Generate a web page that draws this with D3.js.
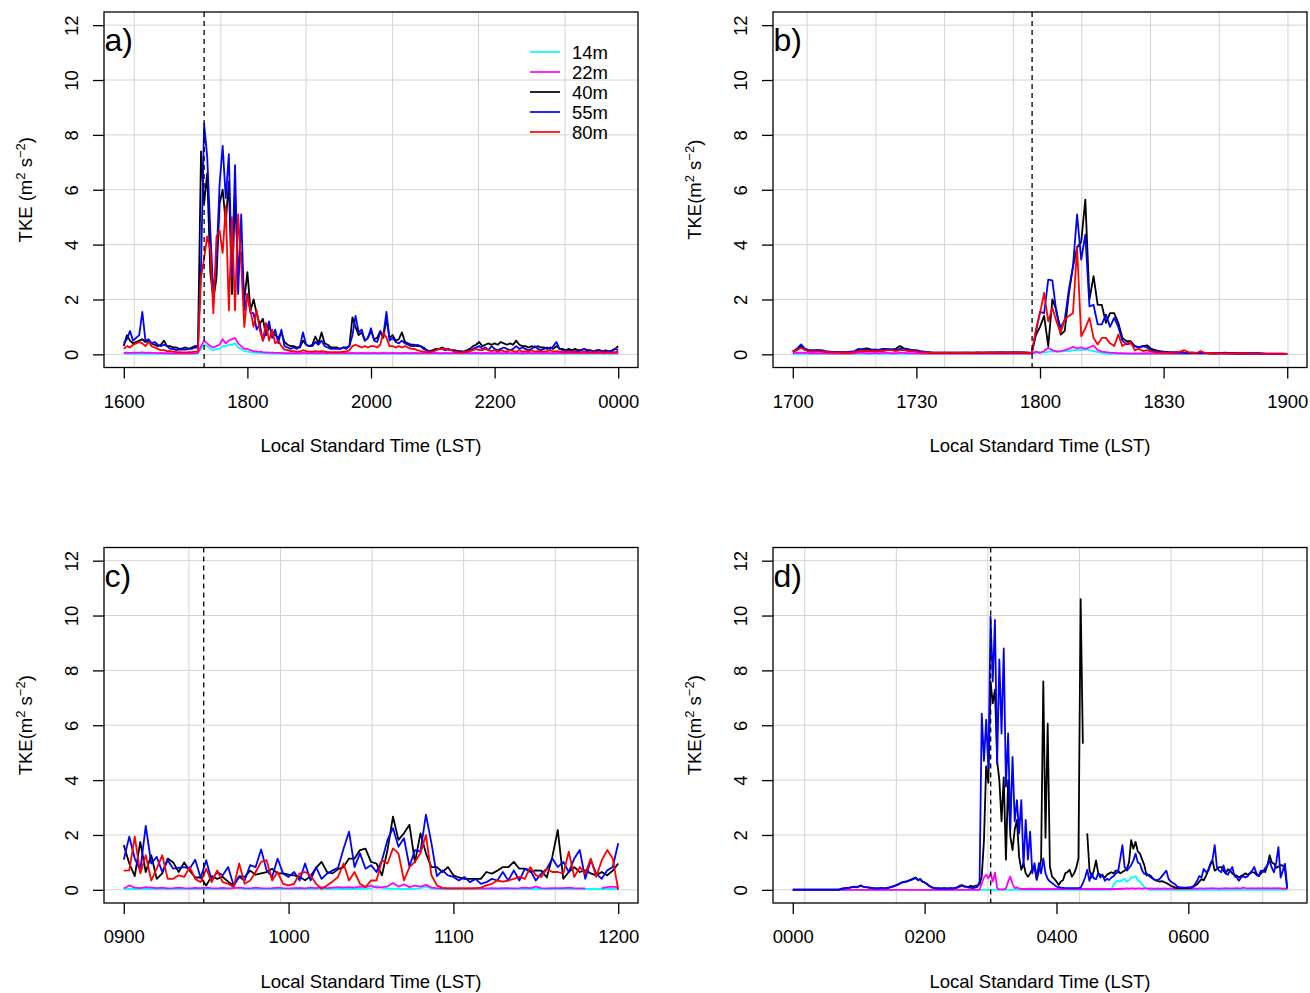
<!DOCTYPE html>
<html><head><meta charset="utf-8">
<script src="https://cdn.jsdelivr.net/npm/d3@7"></script>
<style>body{margin:0;background:#fff}</style>
</head><body>
<svg id="chart" width="1310" height="993"></svg>
<script>
// ---------------- DATA ----------------
const seriesNames = ["14m","22m","40m","55m","80m"];
const seriesColors = ["#00FFFF","#FF00FF","#000000","#0000FF","#FF0000"];
const yTicks = [0,2,4,6,8,10,12];

// Panel a: 16:00-24:00, 3-min samples
const aStart = 16, aStepMin = 3, aEnd = 24;
const a14 = [0.02,0.02,0.03,0.02,0.02,0.03,0.02,0.02,0.03,0.02,
0.02,0.02,0.02,0.02,0.02,0.02,0.02,0.02,0.02,0.02,
0.02,0.02,0.02,0.02,0.03,0.2,0.35,0.3,0.2,0.15,
0.2,0.2,0.3,0.3,0.35,0.35,0.4,0.25,0.2,0.12,
0.1,0.08,0.06,0.05,0.05,0.04,0.04,0.03,0.03,0.03,
0.03,0.02,0.03,0.03,0.02,0.03,0.03,0.02,0.03,0.03,
0.03,0.02,0.03,0.03,0.02,0.03,0.03,0.02,0.03,0.03,
0.03,0.02,0.03,0.03,0.02,0.03,0.03,0.02,0.03,0.03,
0.03,0.02,0.03,0.03,0.02,0.03,0.03,0.02,0.03,0.03,
0.03,0.02,0.03,0.03,0.02,0.03,0.03,0.02,0.03,0.03,
0.03,0.02,0.03,0.03,0.02,0.03,0.03,0.02,0.03,0.03,
0.03,0.02,0.03,0.03,0.02,0.03,0.03,0.02,0.03,0.03,
0.03,0.02,0.03,0.03,0.02,0.03,0.03,0.02,0.03,0.03,
0.03,0.02,0.03,0.03,0.02,0.03,0.03,0.02,0.03,0.03,
0.03,0.02,0.03,0.03,0.02,0.03,0.03,0.02,0.03,0.03,
0.03,0.02,0.03,0.03,0.02,0.03,0.03,0.02,0.03,0.03,
0.03];
const a22 = [0.05,0.06,0.05,0.06,0.05,0.06,0.07,0.05,0.06,0.05,
0.05,0.04,0.05,0.04,0.04,0.04,0.03,0.04,0.03,0.03,
0.03,0.04,0.03,0.04,0.05,0.3,0.5,0.4,0.3,0.25,
0.3,0.35,0.55,0.4,0.5,0.55,0.6,0.4,0.3,0.2,
0.2,0.15,0.12,0.1,0.1,0.08,0.07,0.06,0.06,0.05,
0.05,0.05,0.04,0.04,0.04,0.04,0.04,0.04,0.05,0.04,
0.04,0.05,0.04,0.04,0.05,0.04,0.04,0.05,0.04,0.04,
0.04,0.05,0.04,0.04,0.05,0.04,0.04,0.05,0.04,0.04,
0.04,0.05,0.04,0.04,0.05,0.04,0.04,0.05,0.04,0.04,
0.04,0.05,0.04,0.04,0.05,0.04,0.04,0.05,0.04,0.04,
0.04,0.05,0.04,0.04,0.05,0.04,0.04,0.05,0.04,0.04,
0.04,0.05,0.04,0.04,0.05,0.04,0.04,0.05,0.04,0.04,
0.04,0.05,0.04,0.04,0.05,0.04,0.04,0.05,0.04,0.04,
0.04,0.05,0.04,0.04,0.05,0.04,0.04,0.05,0.04,0.04,
0.04,0.05,0.04,0.04,0.05,0.04,0.04,0.05,0.04,0.04,
0.04,0.05,0.04,0.04,0.05,0.04,0.04,0.05,0.04,0.04,
0.04];
const a40 = [0.3,0.7,0.5,0.4,0.45,0.5,0.55,0.45,0.5,0.4,
0.35,0.3,0.35,0.5,0.3,0.3,0.25,0.25,0.2,0.22,
0.25,0.2,0.25,0.3,0.3,7.4,5.5,6.6,3.0,2.0,
2.8,5.5,6.0,4.8,6.3,2.2,5.8,3.2,3.7,2.0,
3.0,1.6,2.0,1.5,1.1,1.3,0.7,1.0,0.8,0.7,
0.6,0.8,0.45,0.35,0.3,0.3,0.25,0.25,0.5,0.35,
0.3,0.35,0.65,0.4,0.8,0.4,0.35,0.25,0.25,0.25,
0.2,0.25,0.25,0.3,1.35,1.0,0.7,0.8,0.5,0.6,
0.85,0.55,0.6,0.85,0.6,1.3,0.6,0.7,0.5,0.55,
0.8,0.45,0.4,0.35,0.35,0.3,0.3,0.25,0.15,0.12,
0.15,0.2,0.2,0.25,0.2,0.2,0.15,0.15,0.12,0.12,
0.1,0.15,0.2,0.3,0.35,0.45,0.3,0.35,0.4,0.35,
0.4,0.35,0.45,0.4,0.35,0.4,0.35,0.5,0.35,0.3,
0.3,0.25,0.3,0.25,0.3,0.25,0.25,0.2,0.25,0.2,
0.3,0.2,0.2,0.15,0.2,0.15,0.2,0.15,0.15,0.2,
0.15,0.15,0.1,0.15,0.15,0.1,0.15,0.1,0.15,0.2,
0.3];
const a55 = [0.4,0.55,0.85,0.5,0.6,0.7,1.55,0.5,0.55,0.4,
0.45,0.35,0.3,0.35,0.3,0.2,0.2,0.15,0.18,0.17,
0.17,0.2,0.2,0.25,0.25,3.2,8.4,7.2,4.5,2.2,
3.4,6.2,7.6,5.7,7.3,2.8,6.9,2.2,5.1,1.6,
2.2,1.5,1.5,0.9,1.1,0.5,0.8,1.2,0.6,0.9,
0.4,0.9,0.3,0.25,0.2,0.25,0.2,0.3,0.8,0.35,
0.3,0.3,0.45,0.35,0.5,0.3,0.25,0.2,0.2,0.2,
0.2,0.25,0.2,0.3,0.7,1.4,0.8,0.9,0.5,0.6,
0.95,0.5,0.45,0.8,0.7,1.55,0.5,0.6,0.45,0.4,
0.5,0.4,0.35,0.3,0.3,0.35,0.3,0.2,0.15,0.1,
0.12,0.15,0.2,0.2,0.15,0.18,0.15,0.12,0.1,0.1,
0.08,0.1,0.12,0.2,0.25,0.3,0.2,0.25,0.15,0.3,
0.2,0.15,0.2,0.25,0.2,0.15,0.2,0.3,0.2,0.25,
0.2,0.15,0.2,0.3,0.2,0.15,0.2,0.25,0.2,0.3,
0.45,0.2,0.15,0.1,0.15,0.1,0.12,0.1,0.15,0.2,
0.1,0.15,0.1,0.1,0.15,0.1,0.1,0.12,0.1,0.2,
0.15];
const a80 = [0.2,0.3,0.25,0.35,0.4,0.45,0.4,0.3,0.45,0.3,
0.25,0.2,0.15,0.15,0.12,0.12,0.1,0.08,0.08,0.07,
0.07,0.08,0.08,0.1,0.1,2.8,3.5,4.3,3.8,1.5,
4.3,4.5,3.7,5.4,1.6,5.0,1.6,5.1,3.3,1.0,
2.2,1.6,1.0,1.6,0.9,0.5,1.15,0.5,0.9,0.4,
0.5,0.3,0.17,0.15,0.12,0.12,0.1,0.1,0.15,0.12,
0.1,0.1,0.12,0.1,0.12,0.1,0.08,0.08,0.08,0.08,
0.08,0.1,0.1,0.15,0.3,0.35,0.3,0.25,0.3,0.25,
0.3,0.3,0.25,0.35,0.8,0.6,0.3,0.3,0.25,0.3,
0.25,0.3,0.25,0.2,0.2,0.15,0.12,0.1,0.08,0.08,
0.1,0.15,0.2,0.2,0.2,0.18,0.15,0.1,0.08,0.07,
0.07,0.1,0.12,0.15,0.2,0.15,0.15,0.2,0.15,0.12,
0.15,0.1,0.15,0.12,0.1,0.15,0.12,0.1,0.15,0.1,
0.12,0.1,0.15,0.1,0.12,0.1,0.1,0.12,0.15,0.1,
0.12,0.1,0.08,0.1,0.08,0.1,0.08,0.06,0.08,0.1,
0.06,0.08,0.06,0.1,0.08,0.06,0.08,0.06,0.06,0.08,
0.1];
const aTicks = [16,18,20,22,24];
const aTickLabels = ["1600","1800","2000","2200","0000"];
const aGrid = [16.17,17.57,18.95,20.35,21.74,23.14];
const aEvent = 17.30;

// Panel b: 17:00-19:00, 1-min samples
const bStart = 17, bStepMin = 1, bEnd = 19;
const b14 = [0.02,0.02,0.02,0.02,0.02,0.02,0.02,0.02,0.02,0.02,
0.02,0.02,0.02,0.02,0.02,0.02,0.02,0.02,0.02,0.02,
0.02,0.02,0.02,0.02,0.02,0.02,0.02,0.02,0.02,0.02,
0.02,0.02,0.02,0.02,0.02,0.02,0.02,0.02,0.02,0.02,
0.02,0.02,0.02,0.02,0.02,0.02,0.02,0.02,0.02,0.02,
0.02,0.02,0.02,0.02,0.02,0.02,0.02,0.02,0.02,0.05,
0.08,0.06,0.1,0.1,0.12,0.1,0.12,0.12,0.15,0.15,
0.15,0.18,0.15,0.12,0.08,0.05,0.03,0.02,0.02,0.02,
0.02,0.02,0.02,0.02,0.02,0.02,0.02,0.02,0.02,0.02,
0.02,0.02,0.02,0.02,0.02,0.02,0.02,0.02,0.02,0.02,
0.02,0.02,0.02,0.02,0.02,0.02,0.02,0.02,0.02,0.02,
0.02,0.02,0.02,0.02,0.02,0.02,0.02,0.02,0.02,0.02,
0.02];
const b22 = [0.04,0.05,0.06,0.05,0.04,0.04,0.04,0.04,0.04,0.03,
0.03,0.03,0.03,0.03,0.03,0.04,0.05,0.05,0.04,0.04,
0.05,0.04,0.05,0.05,0.04,0.04,0.05,0.05,0.04,0.04,
0.04,0.03,0.03,0.03,0.03,0.03,0.03,0.03,0.03,0.03,
0.03,0.03,0.03,0.03,0.03,0.03,0.03,0.03,0.03,0.03,
0.03,0.03,0.03,0.03,0.03,0.03,0.03,0.03,0.03,0.1,
0.05,0.12,0.24,0.15,0.1,0.12,0.15,0.2,0.27,0.22,
0.25,0.2,0.25,0.32,0.15,0.1,0.08,0.06,0.05,0.04,
0.04,0.03,0.03,0.03,0.03,0.03,0.04,0.03,0.03,0.03,
0.03,0.03,0.03,0.03,0.03,0.03,0.03,0.03,0.03,0.03,
0.03,0.03,0.03,0.03,0.03,0.03,0.03,0.03,0.03,0.03,
0.03,0.03,0.03,0.03,0.03,0.03,0.03,0.03,0.03,0.03,
0.02];
const b40 = [0.1,0.15,0.3,0.18,0.12,0.12,0.15,0.12,0.1,0.08,
0.08,0.08,0.07,0.07,0.08,0.1,0.15,0.2,0.22,0.18,
0.15,0.17,0.2,0.17,0.18,0.2,0.3,0.22,0.18,0.15,
0.12,0.1,0.08,0.07,0.06,0.06,0.06,0.06,0.06,0.06,
0.06,0.06,0.06,0.06,0.06,0.06,0.06,0.07,0.07,0.07,
0.07,0.07,0.07,0.07,0.07,0.07,0.07,0.06,0.05,0.7,
1.0,1.4,0.3,2.0,1.6,0.72,0.85,2.2,3.2,3.9,
4.1,5.64,2.0,2.85,1.8,1.8,1.15,1.5,1.5,1.15,
0.6,0.48,0.48,0.3,0.25,0.3,0.33,0.2,0.15,0.12,
0.1,0.08,0.07,0.07,0.08,0.06,0.05,0.06,0.05,0.05,
0.05,0.04,0.04,0.04,0.05,0.05,0.04,0.04,0.03,0.03,
0.03,0.03,0.03,0.03,0.02,0.02,0.02,0.02,0.02,0.02,
0.02];
const b55 = [0.1,0.2,0.36,0.2,0.15,0.15,0.15,0.15,0.12,0.1,
0.08,0.08,0.08,0.08,0.1,0.12,0.2,0.15,0.15,0.15,
0.18,0.15,0.18,0.2,0.18,0.15,0.2,0.2,0.18,0.15,
0.15,0.12,0.1,0.08,0.06,0.06,0.06,0.06,0.06,0.06,
0.06,0.06,0.06,0.06,0.06,0.07,0.06,0.06,0.06,0.06,
0.07,0.07,0.06,0.07,0.07,0.07,0.06,0.06,0.05,0.8,
1.55,1.5,2.72,2.7,1.5,0.97,1.25,2.36,3.2,5.1,
3.45,4.36,1.75,1.8,1.09,1.09,1.45,1.0,1.33,1.0,
0.5,0.36,0.4,0.3,0.25,0.3,0.25,0.15,0.1,0.1,
0.08,0.08,0.07,0.07,0.08,0.06,0.05,0.06,0.05,0.05,
0.05,0.05,0.04,0.04,0.05,0.06,0.04,0.04,0.03,0.03,
0.03,0.03,0.03,0.03,0.03,0.02,0.02,0.02,0.02,0.02,
0.02];
const b80 = [0.1,0.15,0.24,0.15,0.1,0.1,0.12,0.1,0.1,0.08,
0.07,0.06,0.06,0.06,0.06,0.08,0.12,0.12,0.12,0.12,
0.12,0.12,0.12,0.15,0.15,0.12,0.15,0.15,0.12,0.12,
0.1,0.08,0.07,0.06,0.05,0.05,0.05,0.05,0.05,0.05,
0.05,0.05,0.06,0.05,0.05,0.06,0.06,0.05,0.06,0.06,
0.06,0.06,0.06,0.06,0.06,0.06,0.06,0.05,0.05,0.9,
1.5,2.24,1.2,1.7,1.2,0.78,1.27,1.4,1.5,3.88,
0.66,0.95,1.33,0.6,0.36,0.6,0.6,0.4,0.3,0.72,
0.3,0.4,0.45,0.15,0.2,0.12,0.15,0.1,0.08,0.06,
0.06,0.05,0.06,0.08,0.1,0.15,0.08,0.05,0.05,0.12,
0.05,0.04,0.04,0.04,0.03,0.03,0.03,0.03,0.03,0.03,
0.03,0.02,0.02,0.02,0.02,0.02,0.02,0.02,0.02,0.02,
0.02];
const bTicks = [17,17.5,18,18.5,19];
const bTickLabels = ["1700","1730","1800","1830","1900"];
const bGrid = [17.058,17.336,17.614,17.892,18.169,18.447,18.725,19.003];
const bEvent = 17.968;

// Panel c: 09:00-12:00, 2-min samples
const cStart = 9, cStepMin = 2, cEnd = 12;
const c14 = [0.05,0.03,0.03,0.03,0.04,0.03,0.03,0.03,0.03,0.03,
0.03,0.03,0.03,0.03,0.03,0.03,0.03,0.03,0.03,0.04,
0.06,0.06,0.03,0.03,0.03,0.03,0.03,0.03,0.03,0.03,
0.03,0.03,0.03,0.03,0.03,0.03,0.03,0.03,0.03,0.03,
0.03,0.03,0.03,0.03,0.04,0.05,0.15,0.06,0.04,0.04,
0.04,0.03,0.03,0.04,0.06,0.12,0.05,0.03,0.03,0.03,
0.03,0.03,0.03,0.03,0.03,0.03,0.03,0.03,0.03,0.03,
0.03,0.03,0.03,0.03,0.03,0.03,0.03,0.03,0.03,0.03,
0.03,0.03,0.03,0.03,0.03,0.03,0.03,0.03,0.03,0.03,
0.03];
const c22 = [0.05,0.16,0.08,0.06,0.1,0.08,0.06,0.08,0.05,0.06,
0.08,0.06,0.05,0.07,0.06,0.08,0.06,0.05,0.07,0.05,
0.06,0.08,0.06,0.05,0.08,0.06,0.05,0.06,0.08,0.06,
0.05,0.06,0.07,0.05,0.08,0.06,0.1,0.06,0.08,0.1,
0.08,0.1,0.08,0.12,0.1,0.15,0.08,0.1,0.12,0.25,
0.12,0.2,0.1,0.15,0.12,0.18,0.08,0.06,0.05,0.05,
0.05,0.05,0.05,0.05,0.06,0.05,0.05,0.06,0.05,0.06,
0.06,0.05,0.06,0.08,0.06,0.12,0.06,0.05,0.06,0.06,
0.06,0.08,0.06,0.05,0.05,null,null,0.06,0.1,0.12,
0.08];
const c40 = [1.63,0.96,0.5,1.75,0.65,1.26,0.4,0.6,1.14,1.0,
0.65,1.0,0.7,0.45,0.45,0.16,0.5,0.4,0.47,0.3,
0.15,0.5,0.47,0.7,0.55,0.6,0.65,0.77,0.6,0.6,
0.55,0.53,0.47,0.35,0.5,0.8,1.02,0.65,0.6,0.75,
0.83,1.14,1.14,1.45,1.5,1.02,0.96,0.53,1.45,2.67,
1.82,2.06,2.37,1.0,2.06,1.33,0.83,0.83,0.65,0.83,
0.53,0.45,0.4,0.4,0.4,0.4,0.65,0.59,0.7,0.83,
0.83,1.02,0.77,0.77,0.65,0.71,0.7,0.45,1.2,2.18,
0.4,0.65,0.83,0.65,0.71,0.6,0.53,0.65,0.53,0.7,
0.96];
const c55 = [1.1,1.94,1.14,0.71,2.33,0.96,1.2,0.65,1.08,0.77,
0.8,0.83,0.77,1.1,0.44,1.08,0.34,0.65,0.53,0.83,
0.16,0.47,0.34,0.9,0.83,1.47,0.71,0.47,1.14,0.59,
0.47,0.65,0.34,0.96,0.34,0.83,0.4,0.59,0.71,0.8,
1.5,2.12,0.83,1.33,0.77,0.9,0.65,1.08,1.82,2.25,
1.57,1.88,0.85,1.45,1.39,2.74,1.7,0.5,0.71,0.53,
0.47,0.34,0.47,0.28,0.4,0.22,0.28,0.4,0.34,0.65,
0.34,0.71,0.34,0.77,0.71,0.34,0.59,0.77,1.14,0.83,
1.02,0.65,1.14,1.45,0.4,1.08,0.59,0.4,0.71,0.83,
1.7];
const c80 = [0.7,0.71,1.94,0.6,1.26,0.34,0.77,1.26,0.4,0.4,
0.53,0.47,0.83,0.4,0.28,0.77,0.28,0.71,0.28,0.22,
0.1,0.96,0.22,0.34,0.65,1.02,1.08,0.34,0.65,0.22,
0.16,0.22,0.59,0.65,0.53,0.22,0.04,0.16,0.3,0.47,
0.96,0.34,0.65,0.22,0.1,0.34,0.34,1.08,0.96,1.51,
1.33,0.34,0.83,1.02,1.33,2.0,0.53,0.16,0.07,0.05,
0.05,0.05,0.05,0.05,0.05,0.08,0.16,0.22,0.34,0.3,
0.34,0.4,0.47,0.4,0.83,0.53,0.47,0.77,0.65,0.65,
0.59,1.39,0.47,0.83,0.59,1.14,0.47,1.08,1.45,1.14,
0];
const cTicks = [9,10,11,12];
const cTickLabels = ["0900","1000","1100","1200"];
const cGrid = [9.395,9.951,10.507,11.062,11.618];
const cEvent = 9.485;

// Panel d: 00:00-07:30, 2-min samples (no 80m data)
const dStart = 0, dStepMin = 2, dEnd = 7.5;
const d14 = [0,0,0,0,0,0,0,0,0,0, 0,0,0,0,0,0,0,0,0,0,
0,0,0,0,0,0,0,0,0,0, 0,0,0,0,0,0,0,0,0,0,
0,0,0,0,0,0,0,0,0,0, 0,0,0,0,0,0,0,0,0,0,
0,0,0,0,0,0,0,0,0,0, 0,0,0,0,0,0,0,0,0,0,
0,0,0,0,0,0,0,0,0,0, 0,0,0,0,0,0,0,0,0,0,
0,0,0,0,0,0,0,0,0,0, 0,0,0,0,0,0,0,0,0,0,
0,0,0,0,0,0,0,0,0,0, 0,0,0,0,0,0,0,0,0,0,
0,0,0,0,0,0,0.2,0.3,0.33,0.3,
0.35,0.4,0.3,0.35,0.45,0.45,0.5,0.35,0.3,0.2,
0.1,0.05,0,0,0,0,0,0,0,0,
0,0,0,0,0,0,0,0,0,0, 0,0,0,0,0,0,0,0,0,0,
0,0,0,0,0,0,0,0,0,0, 0,0,0,0,0,0,0,0,0,0,
0,0,0,0,0,0,0,0,0,0,
0,0,0,0,0,0];
const d22 = [0,0,0,0,0,0,0,0,0,0, 0,0,0,0,0,0,0,0,0,0,
0,0,0,0,0,0,0,0,0,0, 0,0,0,0,0,0,0,0,0,0,
0,0,0,0,0,0,0,0,0,0, 0,0,0,0,0,0,0,0,0,0,
0,0,0,0,0,0,0,0,0,0, 0,0,0,0,0,0,0,0,0,0,
0,0,0,0,0,0,0.24,0.45,0.55,0.42,
0.6,0.3,0.63,0.06,0.02,0.02,0.02,0.05,0.3,0.48,
0.22,0.06,0.08,0.05,0.03,0.03,0.03,0.03,0.04,0.03,
0.03,0.03,0.03,0.03,0.03,0.03,0.03,0.03,0.03,0.03,
0.03,0.03,0.03,0.03,0.03,0.03,0.03,0.03,0.03,0.03,
0.03,0.03,0.03,0.03,0.03,0.03,0.03,0.03,0.03,0.03,
0.03,0.03,0.03,0.03,0.03,0.03,0.03,0.03,0.03,0.03,
0.04,0.04,0.05,0.04,0.05,0.05,0.04,0.05,0.05,0.04,
0.05,0.05,0.04,0.05,0.04,0.04,0.05,0.04,0.04,0.05,
0.04,0.04,0.05,0.04,0.04,0.04,0.04,0.04,0.04,0.04,
0.04,0.04,0.04,0.05,0.04,0.05,0.05,0.04,0.05,0.05,
0.05,0.06,0.05,0.05,0.04,0.05,0.05,0.06,0.05,0.05,
0.05,0.05,0.06,0.05,0.05,0.08,0.06,0.05,0.05,0.06,
0.05,0.05,0.06,0.05,0.06,0.05,0.06,0.05,0.05,0.06,
0.05,0.06,0.05,0.04,0.05,0.03];
const d40 = [0.01,0.01,0.01,0.01,0.01,0.01,0.01,0.01,0.01,0.01,
0.01,0.01,0.01,0.01,0.01,0.01,0.01,0.01,0.01,0.01,
0.01,0.01,0.04,0.05,0.06,0.07,0.08,0.1,0.12,0.1,
0.13,0.16,0.12,0.1,0.09,0.08,0.06,0.05,0.05,0.05,
0.06,0.06,0.05,0.07,0.09,0.12,0.13,0.17,0.2,0.25,
0.28,0.3,0.32,0.35,0.38,0.42,0.45,0.35,0.4,0.3,
0.27,0.22,0.15,0.1,0.07,0.05,0.06,0.05,0.05,0.06,
0.05,0.05,0.06,0.05,0.07,0.1,0.15,0.17,0.13,0.12,
0.1,0.15,0.12,0.15,0.15,0.2,0.5,1.8,4.5,3.9,
7.6,6.8,7.3,4.7,4.0,2.5,4.1,1.1,4.0,1.95,
1.45,2.2,2.55,1.2,0.73,0.97,0.6,0.48,0.6,0.75,
0.85,0.36,0.7,1.1,7.6,1.9,6.06,0.85,0.48,0.4,
0.3,0.18,0.3,0.36,0.6,0.65,0.73,0.48,0.6,0.8,
1.15,10.6,5.33,null,2.06,0.73,0.45,0.7,1.07,0.6,
0.55,0.5,0.45,0.55,0.6,0.64,0.6,0.7,0.7,0.6,
0.65,0.7,0.76,1.0,1.81,1.5,1.75,1.4,1.32,1.1,
0.89,0.52,0.55,0.5,0.4,0.35,0.33,0.3,0.32,0.28,
0.25,0.2,0.15,0.12,0.08,0.06,0.06,0.06,0.06,0.06,
0.06,0.07,0.1,0.15,0.2,0.3,0.39,0.35,0.5,0.7,
0.9,1.07,0.7,0.75,0.83,0.83,0.7,0.6,0.75,0.7,
0.6,0.55,0.52,0.45,0.5,0.55,0.6,0.55,0.6,0.64,
0.64,0.55,0.5,0.6,0.7,0.65,0.9,1.26,1.0,0.95,
0.8,0.85,0.9,0.89,0.7,0.05];
const d55 = [0.01,0.01,0.01,0.01,0.01,0.01,0.01,0.01,0.01,0.01,
0.01,0.01,0.01,0.01,0.01,0.01,0.01,0.01,0.01,0.01,
0.01,0.01,0.03,0.04,0.05,0.06,0.08,0.1,0.11,0.09,
0.12,0.15,0.12,0.1,0.09,0.08,0.07,0.06,0.05,0.05,
0.06,0.05,0.05,0.06,0.08,0.11,0.13,0.16,0.2,0.24,
0.27,0.28,0.3,0.33,0.36,0.4,0.43,0.35,0.38,0.3,
0.27,0.2,0.15,0.1,0.07,0.05,0.05,0.04,0.05,0.05,
0.04,0.05,0.05,0.05,0.06,0.08,0.12,0.15,0.12,0.11,
0.08,0.07,0.06,0.08,0.11,0.3,6.42,4.7,6.2,4.4,
9.96,7.6,9.84,4.6,8.4,5.7,8.8,3.76,5.7,2.2,
4.85,2.5,3.27,2.06,3.27,0.85,2.55,1.1,2.12,0.6,
0.97,0.42,0.97,0.6,1.15,0.6,0.4,0.3,0.25,0.18,
0.12,0.1,0.08,0.07,0.06,0.06,0.06,0.06,0.06,0.06,
0.06,0.08,0.24,0.45,0.73,0.33,0.6,0.42,0.39,0.6,
0.45,0.55,0.33,0.4,0.36,0.45,0.5,0.6,0.64,1.13,
1.63,0.83,0.7,0.8,0.9,1.07,1.32,1.0,0.95,0.7,
0.58,0.6,0.52,0.45,0.4,0.35,0.35,0.4,0.5,0.6,
0.7,0.4,0.3,0.25,0.2,0.12,0.09,0.09,0.08,0.08,
0.09,0.1,0.12,0.2,0.33,0.5,0.45,0.76,0.65,0.7,
0.95,1.1,1.63,0.83,0.7,0.64,0.89,0.6,0.55,0.7,
0.83,0.5,0.45,0.33,0.45,0.5,0.45,0.5,0.6,0.7,
0.83,0.6,0.5,0.7,0.65,0.8,0.89,1.07,0.8,0.64,
1.0,1.56,0.45,0.7,0.95,0.05];
const dTicks = [0,2,4,6];
const dTickLabels = ["0000","0200","0400","0600"];
const dGrid = [0.182,1.571,2.96,4.349,5.738,7.127];
const dEvent = 3.002;

const panelLabels = ["a)","b)","c)","d)"];
const xTitle = "Local Standard Time (LST)";

// ---------------- DRAWING ----------------
const FONT = "'Liberation Sans', Arial, Helvetica, sans-serif";
const FS = 18.5;
const svg = d3.select("#chart").attr("font-family", FONT);
svg.append("rect").attr("width",1310).attr("height",993).attr("fill","#fff");

const panels = [
  {box:[104,638,12,367.5], t0:aStart, t1:aEnd, step:aStepMin, series:[a14,a22,a40,a55,a80],
   ticks:aTicks, tickLabels:aTickLabels, grid:aGrid, event:aEvent, label:panelLabels[0], spaced:true, legend:true},
  {box:[773,1307,12,367.5], t0:bStart, t1:bEnd, step:bStepMin, series:[b14,b22,b40,b55,b80],
   ticks:bTicks, tickLabels:bTickLabels, grid:bGrid, event:bEvent, label:panelLabels[1], spaced:false, legend:false},
  {box:[104,638,547.5,903], t0:cStart, t1:cEnd, step:cStepMin, series:[c14,c22,c40,c55,c80],
   ticks:cTicks, tickLabels:cTickLabels, grid:cGrid, event:cEvent, label:panelLabels[2], spaced:false, legend:false},
  {box:[773,1307,547.5,903], t0:dStart, t1:dEnd, step:dStepMin, series:[d14,d22,d40,d55,null],
   ticks:dTicks, tickLabels:dTickLabels, grid:dGrid, event:dEvent, label:panelLabels[3], spaced:false, legend:false}
];

panels.forEach((p, pi) => {
  const [L,R,T,B] = p.box;
  const span = p.t1 - p.t0;
  const x = d3.scaleLinear().domain([p.t0 - 0.04*span, p.t1 + 0.04*span]).range([L,R]);
  const y = d3.scaleLinear().domain([-0.48, 12.48]).range([B,T]);
  const g = svg.append("g");

  // grid
  g.selectAll(null).data(yTicks).enter().append("line")
    .attr("x1",L).attr("x2",R).attr("y1",d=>y(d)).attr("y2",d=>y(d))
    .attr("stroke","#d3d3d3").attr("stroke-width",1);
  g.selectAll(null).data(p.grid).enter().append("line")
    .attr("y1",T).attr("y2",B).attr("x1",d=>x(d)).attr("x2",d=>x(d))
    .attr("stroke","#d3d3d3").attr("stroke-width",1);

  // clip
  const cid = "clip"+pi;
  svg.append("clipPath").attr("id",cid).append("rect")
    .attr("x",L).attr("y",T).attr("width",R-L).attr("height",B-T);
  const lg = g.append("g").attr("clip-path",`url(#${cid})`);

  const line = d3.line().defined(d=>d.v!==null).x(d=>x(d.t)).y(d=>y(d.v));
  p.series.forEach((arr, si) => {
    if (!arr) return;
    const pts = arr.map((v,i)=>({t:p.t0 + i*p.step/60, v:v}));
    lg.append("path").attr("d", line(pts)).attr("fill","none")
      .attr("stroke", seriesColors[si]).attr("stroke-width",1.8)
      .attr("stroke-linejoin","round");
  });

  // event dashed line
  g.append("line").attr("x1",x(p.event)).attr("x2",x(p.event)).attr("y1",T).attr("y2",B)
    .attr("stroke","#000").attr("stroke-width",1.3).attr("stroke-dasharray","5,4");

  // box
  g.append("rect").attr("x",L).attr("y",T).attr("width",R-L).attr("height",B-T)
    .attr("fill","none").attr("stroke","#000").attr("stroke-width",1.3);

  // x axis
  const xa = g.append("g").attr("transform",`translate(0,${B})`)
    .call(d3.axisBottom(x).tickValues(p.ticks).tickFormat((d,i)=>p.tickLabels[i]).tickSize(11).tickSizeOuter(0));
  xa.select(".domain").remove();
  xa.attr("font-size",FS).attr("font-family",FONT);
  xa.selectAll("line").attr("stroke","#000").attr("stroke-width",1.3);
  xa.selectAll("text").attr("y",40).attr("dy",null).attr("fill","#000");

  // y axis
  const ya = g.append("g").attr("transform",`translate(${L},0)`)
    .call(d3.axisLeft(y).tickValues(yTicks).tickSize(11).tickSizeOuter(0));
  ya.select(".domain").remove();
  ya.attr("font-size",FS).attr("font-family",FONT);
  ya.selectAll("line").attr("stroke","#000").attr("stroke-width",1.3);
  ya.selectAll("text").attr("x",null).attr("dy",null).attr("text-anchor","middle")
    .attr("transform","translate(-26,0) rotate(-90)").attr("fill","#000");

  // x title
  g.append("text").attr("x",(L+R)/2).attr("y",B+84.5).attr("text-anchor","middle")
    .attr("font-size",FS).text(xTitle);

  // y title
  const yt = g.append("text").attr("transform",`translate(${L-72},${(T+B)/2}) rotate(-90)`)
    .attr("text-anchor","middle").attr("font-size",FS);
  yt.append("tspan").text(p.spaced ? "TKE (m" : "TKE(m");
  yt.append("tspan").attr("dy",-7).attr("font-size",13).text("2");
  yt.append("tspan").attr("dy",7).text(" s");
  yt.append("tspan").attr("dy",-7).attr("font-size",13).text("\u22122");
  yt.append("tspan").attr("dy",7).text(")");

  // panel label
  g.append("text").attr("x",L+0.5).attr("y",T+39).attr("font-size",32).text(p.label);

  // legend
  if (p.legend) {
    seriesNames.forEach((n,k)=>{
      const yy = 52 + 20*k;
      g.append("line").attr("x1",530).attr("x2",560).attr("y1",yy).attr("y2",yy)
        .attr("stroke",seriesColors[k]).attr("stroke-width",1.7);
      g.append("text").attr("x",572).attr("y",yy).attr("dy","0.36em").attr("font-size",FS).text(n);
    });
  }
});
</script>
</body></html>
